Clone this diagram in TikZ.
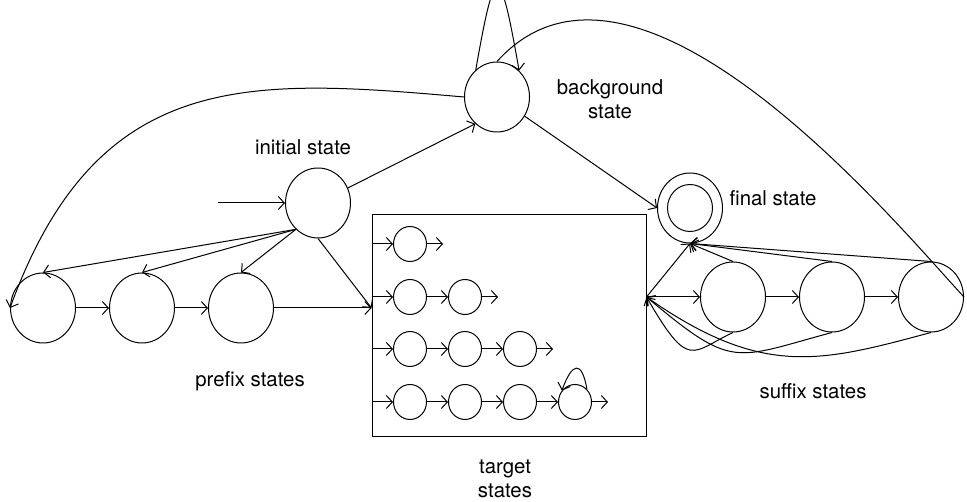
\documentclass[tikz,border=0pt]{standalone}
\usepackage{fontspec}
\setmainfont{TeX Gyre Heros}
\usetikzlibrary{arrows.meta,positioning,shapes.geometric}

\begin{document}
\begin{tikzpicture}[x=0.5pt,y=0.5pt,->,>={Straight Barb[length=3pt,width=6.5pt]},
                    line width=0.5pt,node distance=49.5pt,
                    font={\fontsize{10.2pt}{12pt}\selectfont},
                    hmm/.style={ellipse,draw,minimum width=32.5pt,minimum height=35pt,inner sep=0pt},
                    tgt/.style={ellipse,draw,minimum width=16.5pt,minimum height=17.5pt,
                                inner sep=0pt,node distance=27.5pt}]

        \useasboundingbox (0,0) rectangle (967,502);

        \node[hmm] (bg) at (497,405) {};
        \node[hmm] (init) at (318,299) {};
        \node[hmm] (final) at (690,294) {};
        \draw[-] (final) circle [x radius=11.25pt,y radius=11.75pt];
        \coordinate (start) at (218,299);

        \node[hmm] (p1) at (43,194) {};
        \node[hmm] (p2) [right of=p1] {};
        \node[hmm] (p3) [right of=p2] {};

        \node[hmm] (s1) at (733,205) {};
        \node[hmm] (s2) [right of=s1] {};
        \node[hmm] (s3) [right of=s2] {};

        \node[draw,minimum width=137pt,minimum height=111pt] (target) at (509,176) {};
        \coordinate (tin) at ([yshift=9pt]target.west);
        \coordinate (tout) at ([yshift=14.5pt]target.east);

        \node[tgt] (a1) at (410,258) {};
        \node[tgt] (b1) at (410,205) {};
        \node[tgt] (b2) [right of=b1] {};
        \node[tgt] (c1) at (410,153) {};
        \node[tgt] (c2) [right of=c1] {};
        \node[tgt] (c3) [right of=c2] {};
        \node[tgt] (d1) at (410,100) {};
        \node[tgt] (d2) [right of=d1] {};
        \node[tgt] (d3) [right of=d2] {};
        \node[tgt] (d4) [right of=d3] {};
        \coordinate[right=8pt of a1.east] (a1o);
        \coordinate[right=8pt of b2.east] (b2o);
        \coordinate[right=8pt of c3.east] (c3o);
        \coordinate[right=8pt of d4.east] (d4o);

        \node (initlbl) at (303,355) {initial state};
        \node[align=center] (bglbl) at (610,403) {background\\state};
        \node (finallbl) at (773,304) {final state};
        \node (prelbl) at (250,121) {prefix states};
        \node[align=center] (tgtlbl) at (505,23) {target\\states};
        \node (suflbl) at (813,111) {suffix states};

        \path (start) edge (init)
              (init) edge (bg.231)
              (init.south) edge (tin)
              (init.230) edge (p1.north)
                         edge (p2.north)
                         edge (p3.north)
              (bg.west) edge [out=175,in=70,out distance=108pt,in distance=128pt] (p1.west)
              (bg.128) edge [out=80,in=100,distance=56pt] (bg.50)
              (bg.north) edge [-,out=48,in=133,out distance=104pt,in distance=47pt] (s3.east)
              (bg) edge (final.west)
              (p1) edge (p2)
              (p2) edge (p3)
              (p3) edge (tin)
              (tout) edge (s1)
                     edge (final.south)
              (s1) edge (s2)
              (s2) edge (s3)
              (s1.north) edge (final.south)
              (s2.north) edge (final.south)
              (s3.north) edge (final.south)
              (s1.south) edge [out=205,in=-60,out distance=23pt,in distance=43pt] (tout)
              (s2.south) edge [out=195,in=-40,out distance=51pt,in distance=57pt] (tout)
              (s3.south) edge [out=195,in=-35,out distance=57pt,in distance=71pt] (tout);

        \path (target.west |- a1) edge (a1)
              (a1) edge (a1o)
              (target.west |- b1) edge (b1)
              (b1) edge (b2)
              (b2) edge (b2o)
              (target.west |- c1) edge (c1)
              (c1) edge (c2)
              (c2) edge (c3)
              (c3) edge (c3o)
              (target.west |- d1) edge (d1)
              (d1) edge (d2)
              (d2) edge (d3)
              (d3) edge (d4)
              (d4) edge (d4o)
              (d4.47) edge [out=100,in=70,distance=15pt] (d4.139);
      \end{tikzpicture}
\end{document}
